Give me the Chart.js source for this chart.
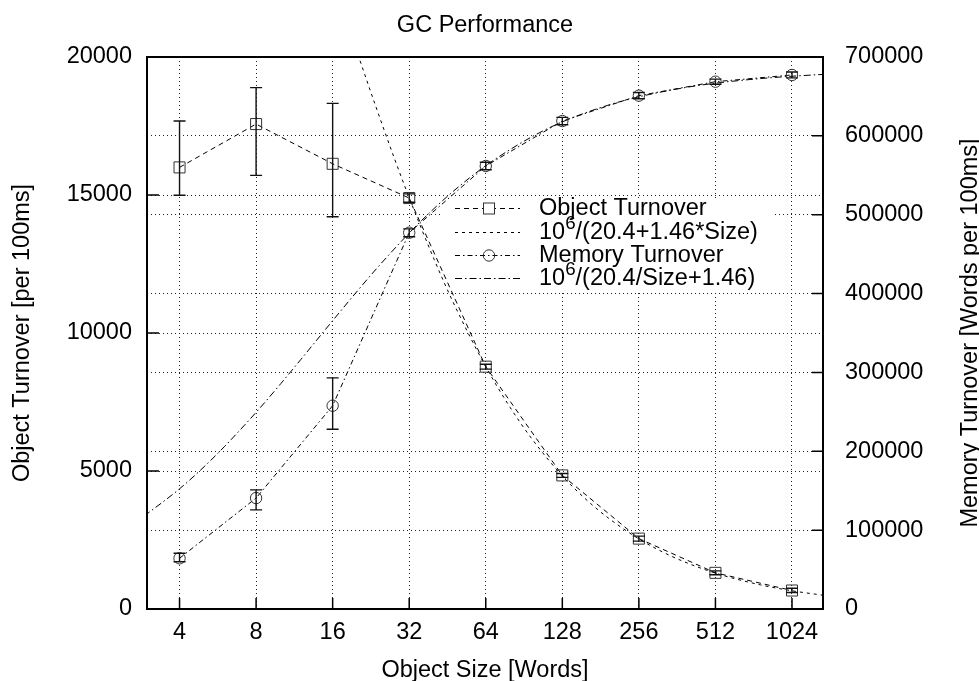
<!DOCTYPE html>
<html>
<head>
<meta charset="utf-8">
<title>GC Performance</title>
<script src="https://cdn.jsdelivr.net/npm/chart.js@4.4.1/dist/chart.umd.min.js"></script>
<style>
  html, body { margin: 0; padding: 0; background: #fff; }
  #wrap { width: 979px; height: 681px; }
</style>
</head>
<body>
<div id="wrap"><canvas id="gcChart" width="979" height="681"></canvas></div>
<script>
// measured points (object size in words)
const sizes = [4, 8, 16, 32, 64, 128, 256, 512, 1024];

// object turnover [per 100ms], left axis
const objTurnover = [16000, 17570, 16130, 14890, 8780, 4840, 2550, 1310, 670];
const objLow      = [14990, 15710, 14210, 14740, 8690, 4770, 2460, 1240, 600];
const objHigh     = [17680, 18890, 18320, 15040, 8870, 4910, 2640, 1380, 750];

// memory turnover [words per 100ms], right axis
const memTurnover = [64300, 140700, 257800, 477200, 561800, 618800, 651000, 668700, 677200];
const memLow      = [59900, 125700, 227900, 472000, 557000, 614000, 647000, 665500, 673500];
const memHigh     = [70700, 151100, 293100, 482000, 566500, 623500, 655000, 672000, 681000];

// fitted curves
const objFitSizes = [12, 16, 20, 24, 28, 32, 40, 48, 64, 80, 96, 128, 160, 192, 256, 320, 384, 512, 768, 1024, 1350];
const objFit      = [26370, 22850, 20160, 18040, 16320, 14900, 12690, 11050, 8780, 7290, 6230, 4820, 3940, 3330, 2540, 2050, 1720, 1300, 876, 660, 502];

const memFitSizes = [2.9, 4, 5, 6, 8, 10, 12, 16, 20, 24, 32, 40, 48, 64, 96, 128, 192, 256, 384, 512, 768, 1024, 1350];
const memFit      = [117700, 152400, 180500, 205800, 249400, 285700, 316500, 365600, 403200, 432900, 476800, 507600, 530500, 562200, 597900, 617700, 638500, 649500, 660900, 666800, 672600, 675600, 677900];

const legendLabels = ['Object Turnover', '10^6/(20.4+1.46*Size)', 'Memory Turnover', '10^6/(20.4/Size+1.46)'];

const FONT = '"Liberation Sans", Arial, Helvetica, sans-serif';
const FS = 23.5;

Chart.defaults.font.family = FONT;
Chart.defaults.font.size = FS;
Chart.defaults.color = '#000';

const toXY = (xs, ys) => xs.map((s, i) => ({ x: Math.log2(s), y: ys[i] }));

const dashes = [[5, 4], [3, 4], [5, 3, 1.5, 3], [7, 3, 1.5, 3]];

function drawErrorBars(ctx, xs, ys, lo, hi) {
  ctx.setLineDash([]);
  ctx.lineWidth = 1.4;
  ctx.strokeStyle = '#111';
  sizes.forEach((s, i) => {
    const px = xs.getPixelForValue(Math.log2(s));
    const a = ys.getPixelForValue(lo[i]);
    const b = ys.getPixelForValue(hi[i]);
    ctx.beginPath();
    ctx.moveTo(px, a); ctx.lineTo(px, b);
    ctx.moveTo(px - 6, a); ctx.lineTo(px + 6, a);
    ctx.moveTo(px - 6, b); ctx.lineTo(px + 6, b);
    ctx.stroke();
  });
}

function drawLabel(ctx, txt, x, y) {
  // handles the 10^6 superscript
  if (txt.startsWith('10^6')) {
    ctx.font = FS + 'px ' + FONT;
    ctx.fillText('10', x, y);
    let w = ctx.measureText('10').width;
    ctx.font = (FS * 0.8) + 'px ' + FONT;
    ctx.fillText('6', x + w, y - 9);
    w += ctx.measureText('6').width;
    ctx.font = FS + 'px ' + FONT;
    ctx.fillText(txt.slice(4), x + w, y);
  } else {
    ctx.font = FS + 'px ' + FONT;
    ctx.fillText(txt, x, y);
  }
}

const gcDecor = {
  id: 'gcDecor',
  beforeDatasetsDraw(chart) {
    // gnuplot keeps the grid out of the key area
    const { ctx } = chart;
    ctx.save();
    ctx.fillStyle = '#fff';
    ctx.fillRect(440, 198, 335, 92);
    ctx.restore();
  },
  afterDatasetsDraw(chart) {
    const { ctx, chartArea: a, scales } = chart;
    const x = scales.x, y = scales.y, y2 = scales.y2;
    ctx.save();

    drawErrorBars(ctx, x, y, objLow, objHigh);
    drawErrorBars(ctx, x, y2, memLow, memHigh);

    // frame
    ctx.setLineDash([]);
    ctx.lineWidth = 2;
    ctx.strokeStyle = '#000';
    ctx.strokeRect(a.left, a.top, a.right - a.left, a.bottom - a.top);

    // inward ticks
    ctx.lineWidth = 1.5;
    ctx.beginPath();
    x.ticks.forEach(t => {
      const px = x.getPixelForValue(t.value);
      ctx.moveTo(px, a.bottom); ctx.lineTo(px, a.bottom - 11);
    });
    y.ticks.forEach(t => {
      const py = y.getPixelForValue(t.value);
      ctx.moveTo(a.left, py); ctx.lineTo(a.left + 12, py);
    });
    y2.ticks.forEach(t => {
      const py = y2.getPixelForValue(t.value);
      ctx.moveTo(a.right, py); ctx.lineTo(a.right - 11, py);
    });
    ctx.stroke();

    // key
    const rows = [208, 232, 255, 278];
    const sx0 = 455, sx1 = 520, mx = 489, tx = 539;
    rows.forEach((ry, i) => {
      ctx.lineWidth = 1;
      ctx.strokeStyle = '#000';
      ctx.setLineDash(dashes[i]);
      ctx.beginPath();
      ctx.moveTo(sx0, ry + 0.5); ctx.lineTo(sx1, ry + 0.5);
      ctx.stroke();
      ctx.setLineDash([]);
      ctx.strokeStyle = '#333';
      if (i === 0) {
        ctx.fillStyle = '#fff';
        ctx.fillRect(mx - 5.5, ry - 5, 11, 11);
        ctx.strokeRect(mx - 5.5, ry - 5, 11, 11);
      } else if (i === 2) {
        ctx.beginPath();
        ctx.arc(mx, ry + 0.5, 5.7, 0, Math.PI * 2);
        ctx.stroke();
      }
      ctx.fillStyle = '#000';
      ctx.textAlign = 'left';
      ctx.textBaseline = 'middle';
      drawLabel(ctx, legendLabels[i], tx, ry + 1);
    });
    ctx.restore();
  },
  afterDraw(chart) {
    const { ctx, chartArea: a } = chart;
    const cx = (a.left + a.right) / 2;
    const cy = (a.top + a.bottom) / 2;
    ctx.save();
    ctx.fillStyle = '#000';
    ctx.font = FS + 'px ' + FONT;
    ctx.textAlign = 'center';
    ctx.textBaseline = 'alphabetic';
    ctx.fillText('GC Performance', cx, 32);
    ctx.fillText('Object Size [Words]', cx, 677);

    ctx.save();
    ctx.translate(29, cy);
    ctx.rotate(-Math.PI / 2);
    ctx.fillText('Object Turnover [per 100ms]', 0, 0);
    ctx.restore();

    ctx.save();
    ctx.translate(976.5, cy);
    ctx.rotate(-Math.PI / 2);
    ctx.fillText('Memory Turnover [Words per 100ms]', 0, 0);
    ctx.restore();
    ctx.restore();
  }
};

const gridStyle = { color: '#222', lineWidth: 1, drawTicks: false };
const borderStyle = { display: false, dash: [1, 3] };

new Chart(document.getElementById('gcChart'), {
  type: 'line',
  data: {
    datasets: [
      {
        label: legendLabels[0],
        data: toXY(sizes, objTurnover),
        yAxisID: 'y',
        borderColor: '#000',
        borderWidth: 1,
        borderDash: dashes[0],
        pointStyle: 'rect',
        pointRadius: 7.8,
        pointBorderWidth: 1,
        pointBorderColor: '#333',
        pointBackgroundColor: 'rgba(0,0,0,0)',
        tension: 0
      },
      {
        label: legendLabels[1],
        data: toXY(objFitSizes, objFit),
        yAxisID: 'y',
        borderColor: '#000',
        borderWidth: 1,
        borderDash: dashes[1],
        pointRadius: 0,
        cubicInterpolationMode: 'monotone'
      },
      {
        label: legendLabels[2],
        data: toXY(sizes, memTurnover),
        yAxisID: 'y2',
        borderColor: '#000',
        borderWidth: 1,
        borderDash: dashes[2],
        pointStyle: 'circle',
        pointRadius: 5.7,
        pointBorderWidth: 1,
        pointBorderColor: '#333',
        pointBackgroundColor: 'rgba(0,0,0,0)',
        tension: 0
      },
      {
        label: legendLabels[3],
        data: toXY(memFitSizes, memFit),
        yAxisID: 'y2',
        borderColor: '#000',
        borderWidth: 1,
        borderDash: dashes[3],
        pointRadius: 0,
        cubicInterpolationMode: 'monotone'
      }
    ]
  },
  options: {
    responsive: false,
    animation: false,
    events: [],
    devicePixelRatio: 1,
    layout: { padding: { top: 57, left: 0, right: 0, bottom: 0 } },
    plugins: {
      legend: { display: false },
      title: { display: false },
      tooltip: { enabled: false }
    },
    scales: {
      x: {
        type: 'linear',
        min: 1.575,
        max: 10.405,
        afterBuildTicks: s => { s.ticks = sizes.map(v => ({ value: Math.log2(v) })); },
        afterFit: s => { s.height = 72; },
        ticks: {
          padding: 9,
          autoSkip: false,
          maxRotation: 0,
          callback: v => String(Math.round(Math.pow(2, v)))
        },
        grid: gridStyle,
        border: borderStyle
      },
      y: {
        position: 'left',
        min: 0,
        max: 20000,
        afterFit: s => { s.width = 147; },
        ticks: { stepSize: 5000, padding: 15, callback: v => String(v) },
        grid: gridStyle,
        border: borderStyle
      },
      y2: {
        position: 'right',
        min: 0,
        max: 700000,
        afterFit: s => { s.width = 156; },
        ticks: { stepSize: 100000, padding: 22, callback: v => String(v) },
        grid: gridStyle,
        border: borderStyle
      }
    }
  },
  plugins: [gcDecor]
});
</script>
</body>
</html>
